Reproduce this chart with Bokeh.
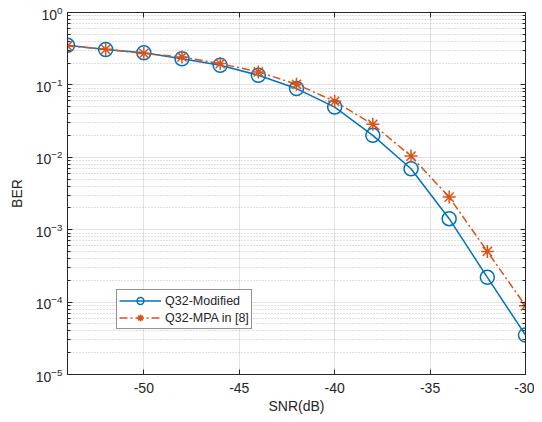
import numpy as np
from bokeh.plotting import figure
from bokeh.models import FixedTicker, LinearAxis, Legend, LegendItem, CustomJSTickFormatter
from bokeh.embed import file_html
from bokeh.resources import INLINE

snr = [-54, -52, -50, -48, -46, -44, -42, -40, -38, -36, -34, -32, -30]
ber_modified = [0.352, 0.308, 0.278, 0.230, 0.187, 0.136, 0.089, 0.0494, 0.0201, 0.00695, 0.00142, 0.00022, 3.5e-5]
ber_mpa = [0.345, 0.310, 0.272, 0.243, 0.197, 0.151, 0.102, 0.0593, 0.0285, 0.0104, 0.00282, 0.00050, 8.9e-5]
x_ticks = [-50, -45, -40, -35, -30]
y_ticks = [1e-5, 1e-4, 1e-3, 1e-2, 1e-1, 1e0]

BLUE = "#0072BD"
ORANGE = "#D95319"
AX = "#262626"
FONT = "Liberation Sans"

p = figure(width=534, height=418, x_range=(-54, -30), y_range=(1e-5, 1),
           y_axis_type="log", output_backend="svg", toolbar_location=None,
           min_border_left=67, min_border_right=9, min_border_top=12, min_border_bottom=44)

minor = [m * d for d in y_ticks[:-1] for m in range(2, 10)]
yticker = FixedTicker(ticks=y_ticks, minor_ticks=minor)
xticker = FixedTicker(ticks=x_ticks)
blank = CustomJSTickFormatter(code="return ' ';")

p.outline_line_color = AX
p.outline_line_width = 1
p.background_fill_color = "white"
p.border_fill_color = "white"

# axes
for ax in p.xaxis:
    ax.ticker = xticker
    ax.formatter = CustomJSTickFormatter(code="return tick.toString();")
    ax.axis_line_color = AX
    ax.major_tick_in = 5
    ax.major_tick_out = 0
    ax.minor_tick_line_color = None
    ax.major_tick_line_color = AX
    ax.major_label_text_font = FONT
    ax.major_label_text_font_size = "14px"
    ax.major_label_text_color = AX
    ax.major_label_standoff = 8
    ax.axis_label = "SNR(dB)"
    ax.axis_label_text_font = FONT
    ax.axis_label_text_font_size = "14px"
    ax.axis_label_text_font_style = "normal"
    ax.axis_label_text_color = AX
    ax.axis_label_standoff = 2

for ax in p.yaxis:
    ax.ticker = yticker
    ax.axis_line_color = AX
    ax.major_tick_in = 5
    ax.major_tick_out = 0
    ax.minor_tick_in = 3
    ax.minor_tick_out = 0
    ax.major_tick_line_color = AX
    ax.minor_tick_line_color = AX
    ax.major_label_text_font = FONT
    ax.major_label_text_font_size = "14px"
    ax.major_label_text_color = AX
    ax.major_label_standoff = 5
    ax.axis_label = "BER"
    ax.axis_label_text_font = FONT
    ax.axis_label_text_font_size = "14px"
    ax.axis_label_text_font_style = "normal"
    ax.axis_label_text_color = AX
    ax.axis_label_standoff = 8

top = LinearAxis(ticker=xticker, formatter=blank, major_tick_in=5, major_tick_out=0,
                 minor_tick_line_color=None, major_label_text_font_size="2px",
                 major_label_standoff=0, axis_line_color=AX, major_tick_line_color=AX)
p.add_layout(top, "above")
right = LinearAxis(ticker=yticker, formatter=blank, major_tick_in=5, major_tick_out=0, minor_tick_in=3,
                   minor_tick_out=0, major_label_text_font_size="2px", major_label_standoff=0,
                   axis_line_color=AX, major_tick_line_color=AX, minor_tick_line_color=AX)
p.add_layout(right, "right")

# grids
p.xgrid.ticker = xticker
p.xgrid.grid_line_color = "#e3e3e3"
p.ygrid.ticker = yticker
p.ygrid.grid_line_color = "#e3e3e3"
p.ygrid.minor_grid_line_color = "#b0b0b0"
p.ygrid.minor_grid_line_dash = "1 2"
p.ygrid.minor_grid_line_alpha = 0.8

# data
l1 = p.line(snr, ber_modified, line_color=BLUE, line_width=1.5)
s1 = p.scatter(snr, ber_modified, marker="circle", size=14, fill_color=None,
               line_color=BLUE, line_width=1.5)
l2 = p.line(snr, ber_mpa, line_color=ORANGE, line_width=1.5, line_dash="8 3 2 3")
s2 = p.scatter(snr, ber_mpa, marker="asterisk", size=13, line_color=ORANGE, line_width=1.5)

legend = Legend(items=[LegendItem(label="Q32-Modified", renderers=[l1, s1]),
                       LegendItem(label="Q32-MPA in [8]", renderers=[l2, s2])],
                location=(49, 45), border_line_color=AX, border_line_width=1,
                background_fill_color="white", background_fill_alpha=1,
                label_text_font=FONT, label_text_font_size="12.5px", label_text_color=AX,
                glyph_width=42, glyph_height=17, label_height=17, padding=2, spacing=0,
                label_standoff=4, margin=0)
p.add_layout(legend, "center")

open("out.html", "w").write(file_html(p, INLINE))
